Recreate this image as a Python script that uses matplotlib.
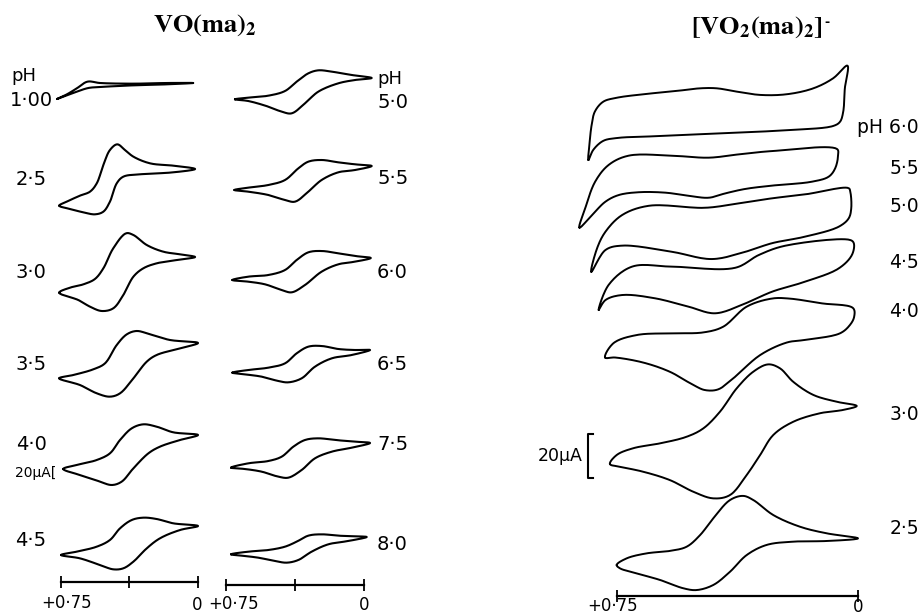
import numpy as np
import matplotlib
matplotlib.use("Agg")
import matplotlib.pyplot as plt

plt.rcParams['font.family'] = ['DejaVu Sans']
plt.rcParams['mathtext.fontset'] = 'stix'

# ---------------- data: potential E (V) and current I (uA) around each CV loop ----------------
# VO(ma)2, first column
E_VO_1_00 = [0.770, 0.716, 0.662, 0.604, 0.535, 0.353, 0.171, 0.026, 0.171, 0.353, 0.535, 0.599, 0.662]
I_VO_1_00 = [-24, -17, -8, 2, 0, -1, 0, 0, -2, -3.5, -6, -7.5, -13]
E_VO_2_5 = [0.758, 0.717, 0.645, 0.590, 0.553, 0.517, 0.481, 0.441, 0.399, 0.353, 0.262, 0.135, 0.016,
            0.135, 0.317, 0.408, 0.444, 0.481, 0.517, 0.563, 0.626, 0.699]
I_VO_2_5 = [-55, -49, -40, -34, -21.5, 6, 28.5, 37, 28.5, 18.5, 8.5, 5, 0,
            -5, -8, -11.5, -21.5, -49, -64, -68, -65, -60]
E_VO_3_0 = [0.758, 0.699, 0.626, 0.563, 0.517, 0.463, 0.393, 0.353, 0.280, 0.190, 0.098, 0.016,
            0.116, 0.226, 0.299, 0.353, 0.408, 0.463, 0.526, 0.590, 0.654]
I_VO_3_0 = [-53.5, -46, -41, -33, -17, 13, 35.5, 33, 18, 8, 4, 0,
            -4.5, -9.5, -17, -29.5, -57, -77, -81, -74.5, -64.5]
E_VO_3_5 = [0.758, 0.681, 0.572, 0.508, 0.444, 0.389, 0.335, 0.262, 0.153, 0.0,
            0.098, 0.226, 0.280, 0.353, 0.426, 0.481, 0.553, 0.645]
I_VO_3_5 = [-53, -48, -39.5, -30.5, -3, 13, 18, 13, 4.5, 0,
            -8, -18, -28, -53, -75.5, -80.5, -75.5, -63]
E_VO_4_0 = [0.736, 0.663, 0.553, 0.481, 0.426, 0.362, 0.299, 0.226, 0.135, 0.0,
            0.098, 0.208, 0.271, 0.353, 0.417, 0.471, 0.545, 0.645]
I_VO_4_0 = [-51, -45, -37.5, -27.5, -7.5, 10, 16, 12.5, 4, 0,
            -7.5, -17.5, -27.5, -50, -70, -75, -69, -60]
E_VO_4_5 = [0.748, 0.663, 0.553, 0.481, 0.426, 0.362, 0.299, 0.226, 0.135, 0.0,
            0.098, 0.208, 0.280, 0.353, 0.408, 0.463, 0.535, 0.645]
I_VO_4_5 = [-43.5, -38.5, -31, -21, -3.5, 9, 12.5, 10.5, 4, 0,
            -6, -18.5, -33.5, -53.5, -63.5, -65, -58.5, -48.5]

# VO(ma)2, second column
E_VO_5_0 = [0.700, 0.628, 0.519, 0.429, 0.366, 0.303, 0.249, 0.176, 0.068, -0.040,
            0.050, 0.141, 0.249, 0.321, 0.393, 0.447, 0.519, 0.628]
I_VO_5_0 = [-32, -29.5, -26.5, -19.5, -5.5, 7, 11.5, 9.5, 4.5, 0,
            -3, -8, -20.5, -38, -53, -50.5, -43, -34.5]
E_VO_5_5 = [0.703, 0.628, 0.519, 0.429, 0.357, 0.303, 0.231, 0.141, 0.050, -0.040,
            0.050, 0.141, 0.231, 0.303, 0.375, 0.429, 0.519, 0.628]
I_VO_5_5 = [-36, -32.5, -28.5, -21, -3.5, 6.5, 9, 5.5, 2.5, 0,
            -6, -9.5, -21, -38.5, -53.5, -51, -43.5, -38.5]
E_VO_6_0 = [0.714, 0.628, 0.519, 0.429, 0.366, 0.303, 0.231, 0.141, 0.050, -0.035,
            0.050, 0.141, 0.231, 0.321, 0.393, 0.447, 0.537, 0.628]
I_VO_6_0 = [-33, -28, -25.5, -18, -3, 8.5, 10.5, 7, 3, 0,
            -5.5, -9.5, -20.5, -40.5, -51.5, -48, -39.5, -35.5]
E_VO_6_5 = [0.714, 0.628, 0.519, 0.429, 0.366, 0.303, 0.231, 0.141, 0.050, -0.031,
            0.068, 0.176, 0.267, 0.339, 0.411, 0.465, 0.555, 0.646]
I_VO_6_5 = [-34, -30, -26.5, -20, -5, 5, 6, 1.5, 0, 0,
            -7.5, -12.5, -25, -42.5, -48.5, -46.5, -40, -36.5]
E_VO_7_5 = [0.721, 0.628, 0.519, 0.447, 0.384, 0.321, 0.249, 0.159, 0.050, -0.031,
            0.068, 0.176, 0.267, 0.339, 0.411, 0.465, 0.555, 0.646]
I_VO_7_5 = [-37, -30.5, -27, -20.5, -5.5, 4.5, 7, 4.5, 2, 0,
            -7, -13, -23, -40.5, -52, -50.5, -43, -39]
E_VO_8_0 = [0.721, 0.628, 0.519, 0.429, 0.366, 0.303, 0.231, 0.141, 0.050, -0.013,
            0.087, 0.195, 0.285, 0.357, 0.420, 0.483, 0.574, 0.646]
I_VO_8_0 = [-26, -22, -19.5, -14.5, -7, 2, 4, 2, 1, 0,
            -6, -11, -22, -34.5, -38.5, -36, -31, -28.5]

# [VO2(ma)2]-
E_VO2_6_0 = [0.840, 0.837, 0.830, 0.820, 0.794, 0.752, 0.669, 0.565, 0.492, 0.440, 0.378, 0.305, 0.222,
             0.139, 0.077, 0.033, 0.041, 0.046, 0.056, 0.077, 0.202, 0.409, 0.617, 0.752, 0.794, 0.825]
I_VO2_6_0 = [-18.2, -11.4, -2.3, 3.8, 8.3, 10.1, 11.7, 13.2, 14.4, 14.4, 12.9, 11.4, 11.7,
             14.4, 19.0, 24.7, 14.4, 3.8, -0.8, -2.7, -4.5, -5.9, -7.3, -8.2, -9.5, -13.6]
E_VO2_5_5 = [0.868, 0.850, 0.819, 0.777, 0.715, 0.580, 0.465, 0.372, 0.268, 0.065, 0.062, 0.071,
             0.091, 0.143, 0.268, 0.351, 0.413, 0.465, 0.528, 0.600, 0.683, 0.746, 0.787, 0.829]
I_VO2_5_5 = [-26.2, -17.4, -5.3, 2.3, 6.5, 6.5, 5.6, 7.1, 8.6, 9.5, 6.8, 0.8,
             -3.0, -5.3, -7.1, -8.6, -10.6, -12.6, -11.7, -10.3, -10.1, -11.4, -14.4, -20.5]
E_VO2_5_0 = [0.831, 0.813, 0.787, 0.735, 0.652, 0.476, 0.372, 0.268, 0.164, 0.029, 0.024,
             0.021, 0.029, 0.060, 0.164, 0.268, 0.351, 0.455, 0.580, 0.735, 0.787]
I_VO2_5_0 = [-19.0, -8.3, -0.8, 6.8, 11.0, 10.1, 12.1, 14.4, 16.2, 19.0, 17.4,
             9.9, 5.3, 1.5, -3.0, -6.0, -9.9, -13.2, -9.9, -7.1, -9.1]
E_VO2_4_5 = [0.808, 0.777, 0.704, 0.580, 0.382, 0.309, 0.227, 0.024, 0.013, 0.019,
             0.060, 0.164, 0.268, 0.351, 0.445, 0.528, 0.632, 0.735, 0.787]
I_VO2_4_5 = [-15.9, -4.5, 3.8, 3.8, 3.3, 9.1, 13.3, 15.9, 14.4, 9.1,
             3.0, -3.0, -7.6, -12.9, -17.4, -14.4, -10.6, -9.1, -11.4]
E_VO2_4_0 = [0.788, 0.762, 0.690, 0.586, 0.482, 0.420, 0.347, 0.268, 0.215, 0.112, 0.015, 0.012,
             0.025, 0.056, 0.165, 0.222, 0.305, 0.389, 0.436, 0.477, 0.513, 0.586, 0.669, 0.757]
I_VO2_4_0 = [-12.5, -6.0, -2.3, -1.5, -1.1, 1.5, 10.6, 14.3, 14.3, 12.1, 9.9, 6.0,
             2.3, -1.5, -4.5, -5.7, -11.4, -22.0, -27.0, -27.3, -25.0, -19.0, -14.8, -12.5]
E_VO2_3_0 = [0.773, 0.752, 0.700, 0.617, 0.534, 0.482, 0.430, 0.378, 0.326, 0.280, 0.243, 0.202, 0.139,
             0.066, 0.004, 0.046, 0.118, 0.202, 0.264, 0.305, 0.347, 0.399, 0.451, 0.513, 0.586, 0.669, 0.742]
I_VO2_3_0 = [-13.2, -9.1, -6.0, -3.8, -0.8, 3.0, 10.6, 21.2, 28.8, 32.1, 30.3, 24.2, 18.2,
             15.1, 13.2, 11.4, 9.9, 6.0, 0.0, -9.1, -18.2, -27.3, -28.8, -25.8, -20.5, -16.7, -14.4]
E_VO2_2_5 = [0.752, 0.721, 0.658, 0.586, 0.534, 0.492, 0.451, 0.399, 0.358, 0.326, 0.264, 0.181, 0.098,
             0.0, 0.098, 0.202, 0.285, 0.347, 0.399, 0.451, 0.503, 0.544, 0.617, 0.690, 0.742]
I_VO2_2_5 = [-15.9, -12.9, -10.6, -9.5, -7.6, -2.3, 5.3, 13.6, 15.5, 13.6, 6.8, 1.5, -1.5,
             -3.8, -5.0, -5.3, -6.8, -11.4, -19.0, -25.0, -27.3, -26.5, -22.7, -19.7, -17.4]

PH_COL1 = ["1·00", "2·5", "3·0", "3·5", "4·0", "4·5"]
PH_COL2 = ["5·0", "5·5", "6·0", "6·5", "7·5", "8·0"]
PH_VO2 = ["pH 6·0", "5·5", "5·0", "4·5", "4·0", "3·0", "2·5"]
SCALE_UA = 20
E_START, E_END = 0.75, 0.0
E_LABELS = ["+0·75", "0"]

# ---------------- layout (pixels) ----------------
W, H = 922, 616
fig = plt.figure(figsize=(W / 100, H / 100), dpi=100)
fig.patch.set_facecolor('white')


def cr_closed(P, n=14, alpha=0.5):
    P = np.asarray(P, float)
    N = len(P)
    out = []
    for i in range(N):
        p0, p1, p2, p3 = P[(i - 1) % N], P[i], P[(i + 1) % N], P[(i + 2) % N]

        def tj(ti, a, b):
            return ti + max(np.hypot(*(b - a)), 1e-3) ** alpha
        t0 = 0.0
        t1 = tj(t0, p0, p1)
        t2 = tj(t1, p1, p2)
        t3 = tj(t2, p2, p3)
        t = np.linspace(t1, t2, n, endpoint=False)[:, None]
        A1 = (t1 - t) / (t1 - t0) * p0 + (t - t0) / (t1 - t0) * p1
        A2 = (t2 - t) / (t2 - t1) * p1 + (t - t1) / (t2 - t1) * p2
        A3 = (t3 - t) / (t3 - t2) * p2 + (t - t2) / (t3 - t2) * p3
        B1 = (t2 - t) / (t2 - t0) * A1 + (t - t0) / (t2 - t0) * A2
        B2 = (t3 - t) / (t3 - t1) * A2 + (t - t1) / (t3 - t1) * A3
        out.append((t2 - t) / (t2 - t1) * B1 + (t - t1) / (t2 - t1) * B2)
    out.append(P[:1])
    return np.vstack(out)


def cv_axes(x0, x1, yc, upp, half=70):
    ax = fig.add_axes([x0 / W, (H - (yc + half)) / H, (x1 - x0) / W, 2 * half / H])
    ax.set_xlim(E_START, E_END)
    ax.set_ylim(-half * upp, half * upp)
    ax.axis('off')
    ax.patch.set_alpha(0)
    return ax


def draw_loop(ax, E, I, lw=1.5):
    pts = ax.transData.transform(np.column_stack([E, I]))
    sm = ax.transData.inverted().transform(cr_closed(pts))
    ax.plot(sm[:, 0], sm[:, 1], color='black', lw=lw, clip_on=False,
            solid_joinstyle='round', solid_capstyle='round')


def scale_bar(x0, x1, ybar, ticks, lab_pos):
    ax = fig.add_axes([x0 / W, (H - ybar) / H, (x1 - x0) / W, 1e-4])
    ax.set_xlim(E_START, E_END)
    ax.set_ylim(0, 1)
    for s in ['top', 'left', 'right']:
        ax.spines[s].set_visible(False)
    ax.spines['bottom'].set_linewidth(1.6)
    ax.set_yticks([])
    ax.set_xticks(ticks)
    ax.set_xticklabels([])
    ax.tick_params(axis='x', direction='inout', length=9, width=1.3)
    ax.patch.set_alpha(0)
    for lab, (lx, ly) in zip(E_LABELS, lab_pos):
        fig.text(lx / W, 1 - ly / H, lab, ha='center', va='center', fontsize=12)
    return ax


# column 1 of VO(ma)2
col1 = [(E_VO_1_00, I_VO_1_00), (E_VO_2_5, I_VO_2_5), (E_VO_3_0, I_VO_3_0),
        (E_VO_3_5, I_VO_3_5), (E_VO_4_0, I_VO_4_0), (E_VO_4_5, I_VO_4_5)]
col1_yc = [83, 169, 257, 343, 435, 526]
col1_ly = [101, 180, 273, 365, 445, 540]
for (E, I), yc in zip(col1, col1_yc):
    draw_loop(cv_axes(60.7, 198, yc, 1.5), E, I)
fig.text(24 / W, 1 - 76 / H, "pH", ha='center', va='center', fontsize=13)
for lab, ly in zip(PH_COL1, col1_ly):
    fig.text(31 / W, 1 - ly / H, lab, ha='center', va='center', fontsize=14)
fig.text(56 / W, 1 - 473 / H, "20μA[", ha='right', va='center', fontsize=10)

# column 2 of VO(ma)2
col2 = [(E_VO_5_0, I_VO_5_0), (E_VO_5_5, I_VO_5_5), (E_VO_6_0, I_VO_6_0),
        (E_VO_6_5, I_VO_6_5), (E_VO_7_5, I_VO_7_5), (E_VO_8_0, I_VO_8_0)]
col2_yc = [78, 166, 258, 350, 443, 537]
col2_ly = [103, 178, 273, 365, 445, 545]
for (E, I), yc in zip(col2, col2_yc):
    draw_loop(cv_axes(225.7, 364.3, yc, 1.5), E, I)
fig.text(377 / W, 1 - 79 / H, "pH", ha='left', va='center', fontsize=13)
for lab, ly in zip(PH_COL2, col2_ly):
    fig.text(377 / W, 1 - ly / H, lab, ha='left', va='center', fontsize=14)

# [VO2(ma)2]- group
col3 = [(E_VO2_6_0, I_VO2_6_0), (E_VO2_5_5, I_VO2_5_5), (E_VO2_5_0, I_VO2_5_0),
        (E_VO2_4_5, I_VO2_4_5), (E_VO2_4_0, I_VO2_4_0), (E_VO2_3_0, I_VO2_3_0),
        (E_VO2_2_5, I_VO2_2_5)]
col3_yc = [120, 170, 230, 275, 330, 435, 530]
col3_ly = [127, 168, 206, 262, 312, 415, 528]
upp3 = 0.4545
for (E, I), yc in zip(col3, col3_yc):
    draw_loop(cv_axes(617.3, 858, yc, upp3), E, I, lw=1.4)
for lab, ly in zip(PH_VO2, col3_ly):
    fig.text(919 / W, 1 - ly / H, lab, ha='right', va='center', fontsize=13.5)

# 20 uA bracket for the right group
axb = cv_axes(617.3, 858, 456, upp3)
axb.plot([0.825, 0.841, 0.841, 0.825],
         [SCALE_UA / 2, SCALE_UA / 2, -SCALE_UA / 2, -SCALE_UA / 2],
         color='black', lw=1.5, clip_on=False)
fig.text(560 / W, 1 - 456 / H, "20μA", ha='center', va='center', fontsize=12.5)

# potential scale bars
mid = (E_START + E_END) / 2
scale_bar(60.7, 198, 582, [E_START, mid, E_END], [(67, 603), (197, 605)])
scale_bar(225.7, 364.3, 585, [E_START, mid, E_END], [(234, 604), (364, 605)])
scale_bar(617.3, 858, 596, [E_START, E_END], [(613, 606), (858, 607)])

# titles
fig.text(205 / W, 1 - 25 / H, r"$\mathbf{VO(ma)_2}$", ha='center', va='center', fontsize=19)
t2 = fig.text(757 / W, 1 - 27 / H, r"$\mathbf{[VO_2(ma)_2]}$", ha='center', va='center', fontsize=19)
fig.canvas.draw()
bb = t2.get_window_extent()
fig.text((bb.x1 + 1) / W, (bb.y1 - 2) / H, "-", ha='left', va='top', fontsize=9, fontweight='bold')

fig.savefig("out.png", dpi=100, facecolor='white')
